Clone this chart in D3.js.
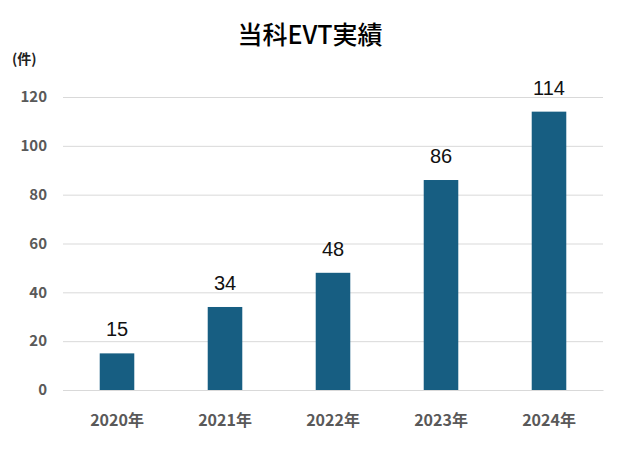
<!DOCTYPE html>
<html><head><meta charset="utf-8">
<script src="https://cdn.jsdelivr.net/npm/d3@7"></script>
<style>body{margin:0;background:#fff}</style></head>
<body><svg id="c" width="620" height="450"></svg>
<script>
const categories = ["2020年","2021年","2022年","2023年","2024年"];
const values = [15,34,48,86,114];
const yTicks = [0,20,40,60,80,100,120];
const title = "当科EVT実績";
const unit = "(件)";

const svg = d3.select("#c");
const font = "'Noto Sans CJK JP', 'Liberation Sans', sans-serif";
const x = d3.scaleBand().domain(categories).range([63,603]).paddingInner(0.68).paddingOuter(0.34);
const y = d3.scaleLinear().domain([0,120]).range([390,97]);

svg.append("text").attr("x",310).attr("y",44).attr("text-anchor","middle")
  .attr("font-family",font).attr("font-size",25).attr("font-weight",500).text(title);
svg.append("text").attr("x",12).attr("y",64).attr("font-family",font)
  .attr("font-size",14).attr("font-weight","bold").attr("fill","#222").text(unit);

const ya = svg.append("g").attr("transform","translate(63,0)")
  .call(d3.axisLeft(y).tickValues(yTicks).tickSize(-540).tickPadding(16));
ya.select(".domain").remove();
ya.selectAll("line").attr("stroke","#d9d9d9");
ya.selectAll("text").attr("font-family",font).attr("font-size",15).attr("font-weight","bold").attr("fill","#595959");

const xa = svg.append("g").attr("transform","translate(0,390)")
  .call(d3.axisBottom(x).tickSize(0).tickPadding(25));
xa.select(".domain").attr("stroke","#d9d9d9");
xa.selectAll("text").attr("font-family",font).attr("font-size",16).attr("font-weight","bold").attr("fill","#595959");

svg.selectAll(".bar").data(values).join("rect").attr("class","bar")
  .attr("x",(d,i)=>x(categories[i])).attr("width",x.bandwidth())
  .attr("y",d=>y(d)).attr("height",d=>y(0)-y(d)).attr("fill","#175e82");

svg.selectAll(".lbl").data(values).join("text").attr("class","lbl")
  .attr("x",(d,i)=>x(categories[i])+x.bandwidth()/2).attr("y",d=>y(d)-17)
  .attr("text-anchor","middle").attr("font-family","'Liberation Sans', sans-serif")
  .attr("font-size",20).attr("fill","#111").text(d=>d);
</script></body></html>
